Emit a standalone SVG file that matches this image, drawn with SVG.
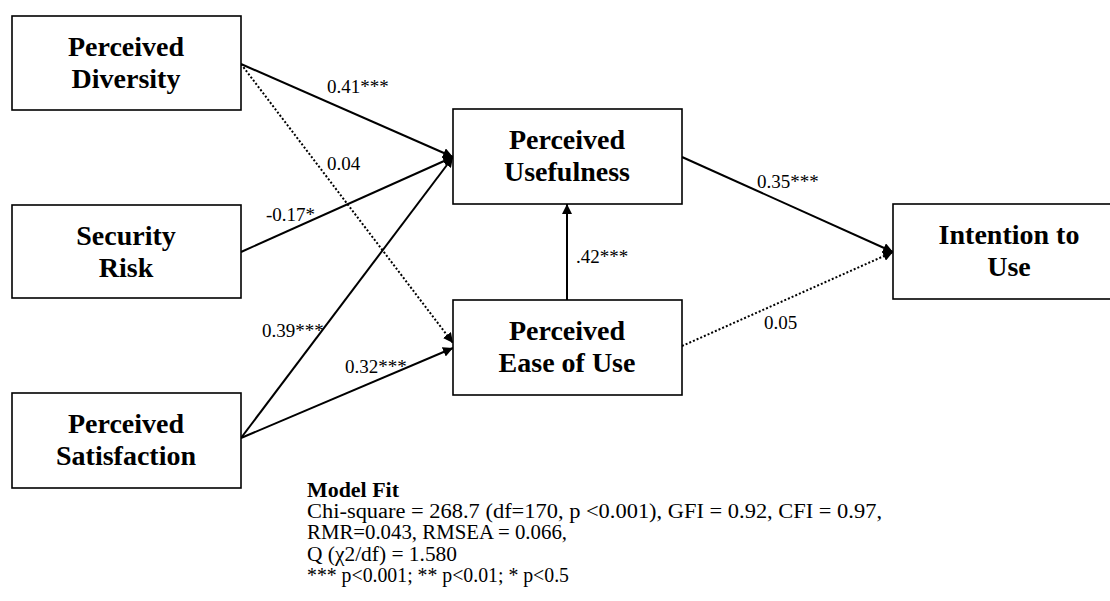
<svg xmlns="http://www.w3.org/2000/svg" width="1110" height="601" viewBox="0 0 1110 601">
<style>
.box{fill:#fff;stroke:#000;stroke-width:1.6}
.nl{font-family:"Liberation Serif",serif;font-weight:bold;font-size:28px;text-anchor:middle;fill:#000}
.lbl{font-family:"Liberation Serif",serif;font-size:19px;fill:#000}
.c{stroke:#000;stroke-width:2;fill:none}
.d{stroke:#000;stroke-width:2;fill:none;stroke-dasharray:2 2}
.fit{font-family:"Liberation Serif",serif;font-size:20px;fill:#000}
</style>
<defs>
<marker id="ah" viewBox="0 0 10 10" refX="10" refY="5" markerWidth="5" markerHeight="5" orient="auto" markerUnits="strokeWidth">
<path d="M0,0 L10,5 L0,10 z" fill="#000"/>
</marker>
</defs>
<rect width="1110" height="601" fill="#fff"/>
<g id="connectors">
<line class="c" x1="241" y1="64" x2="453" y2="157" marker-end="url(#ah)"/>
<line class="d" x1="241" y1="64" x2="453" y2="343" marker-end="url(#ah)"/>
<line class="c" x1="241" y1="252" x2="453" y2="157" marker-end="url(#ah)"/>
<line class="c" x1="241" y1="438" x2="453" y2="157" marker-end="url(#ah)"/>
<line class="c" x1="241" y1="438" x2="453" y2="348" marker-end="url(#ah)"/>
<line class="c" x1="567" y1="300" x2="567" y2="204" marker-end="url(#ah)"/>
<line class="c" x1="682" y1="157" x2="893" y2="252" marker-end="url(#ah)"/>
<line class="d" x1="682" y1="346" x2="893" y2="252" marker-end="url(#ah)"/>
<text class="lbl" x="327" y="93">0.41***</text>
<text class="lbl" x="327" y="170">0.04</text>
<text class="lbl" x="266" y="221">-0.17*</text>
<text class="lbl" x="262" y="337">0.39***</text>
<text class="lbl" x="345" y="373">0.32***</text>
<text class="lbl" x="576" y="263">.42***</text>
<text class="lbl" x="757" y="188">0.35***</text>
<text class="lbl" x="764" y="329">0.05</text>
</g>
<g id="pd">
<rect class="box" x="12" y="16" width="229" height="94"/>
<text class="nl" x="126" y="56">Perceived</text>
<text class="nl" x="126" y="88">Diversity</text>
</g>
<g id="sr">
<rect class="box" x="12" y="205" width="229" height="93"/>
<text class="nl" x="126" y="245">Security</text>
<text class="nl" x="126" y="277">Risk</text>
</g>
<g id="ps">
<rect class="box" x="12" y="393" width="229" height="95"/>
<text class="nl" x="126" y="433">Perceived</text>
<text class="nl" x="126" y="465">Satisfaction</text>
</g>
<g id="pu">
<rect class="box" x="453" y="109" width="229" height="95"/>
<text class="nl" x="567" y="149">Perceived</text>
<text class="nl" x="567" y="181">Usefulness</text>
</g>
<g id="peou">
<rect class="box" x="453" y="300" width="229" height="95"/>
<text class="nl" x="567" y="340">Perceived</text>
<text class="nl" x="567" y="372">Ease of Use</text>
</g>
<g id="itu">
<rect class="box" x="893" y="204" width="220" height="95"/>
<text class="nl" x="1009" y="244">Intention to</text>
<text class="nl" x="1009" y="276">Use</text>
</g>
<g id="modelfit">
<text class="fit" x="307" y="497" font-weight="bold" textLength="92" lengthAdjust="spacingAndGlyphs">Model Fit</text>
<text class="fit" x="307" y="518" textLength="575" lengthAdjust="spacingAndGlyphs">Chi-square = 268.7 (df=170, p &lt;0.001), GFI = 0.92, CFI = 0.97,</text>
<text class="fit" x="307" y="539" textLength="260" lengthAdjust="spacingAndGlyphs">RMR=0.043, RMSEA = 0.066,</text>
<text class="fit" x="307" y="561" textLength="150" lengthAdjust="spacingAndGlyphs">Q (χ2/df) = 1.580</text>
<text class="fit" x="307" y="582" textLength="262" lengthAdjust="spacingAndGlyphs">*** p&lt;0.001; ** p&lt;0.01; * p&lt;0.5</text>
</g>
</svg>
